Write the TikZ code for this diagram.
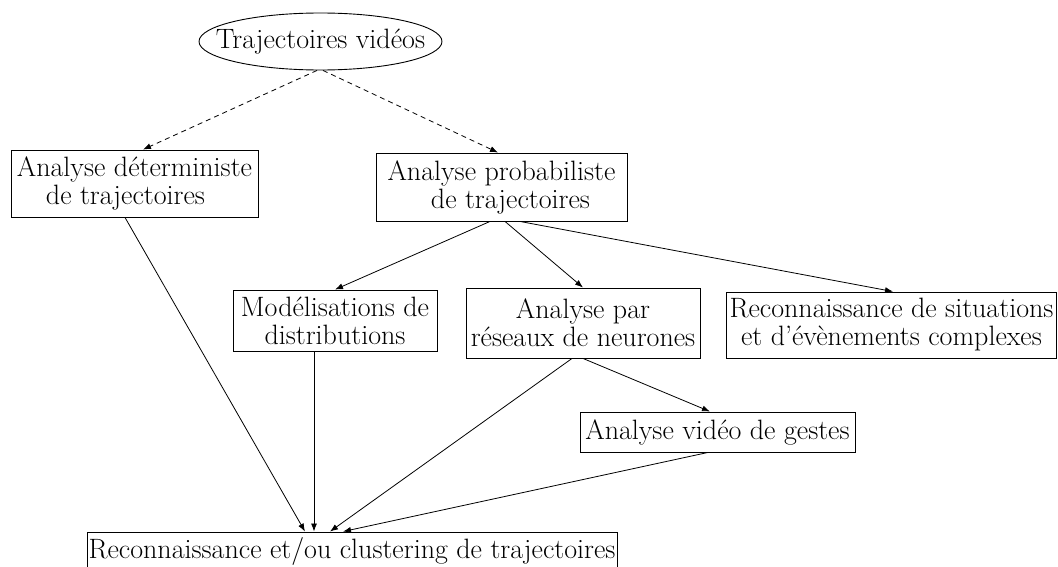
\documentclass[tikz,border=0pt]{standalone}
\usetikzlibrary{arrows.meta,shapes.geometric}
\begin{document}
\begin{tikzpicture}[x=1pt,y=-1pt,
  every node/.style={font=\fontsize{28}{28}\selectfont, align=center, inner sep=0pt},
  box/.style={draw, line width=0.9pt, rectangle},
  oval/.style={draw, line width=0.9pt, ellipse},
  conn/.style={line width=0.8pt, -{Latex[length=8pt,width=6pt]}},
  dconn/.style={conn, dash pattern=on 5pt off 4pt}]
\useasboundingbox (0,0) rectangle (1058,567);
\node[oval, minimum width=243pt, minimum height=57pt] (ell) at (320.5,41.5) {\makebox[0pt]{Trajectoires vidéos}};
\node[box, minimum width=247pt, minimum height=67pt] (A) at (134.5,183.5) {Analyse déterministe\\ de trajectoires\hspace*{18pt}};
\node[box, minimum width=251pt, minimum height=68pt] (B) at (501.5,187) {Analyse probabiliste\\ \hspace*{18pt}de trajectoires};
\node[box, minimum width=204pt, minimum height=61pt] (C) at (335,320.5) {Modélisations de\\ distributions};
\node[box, minimum width=234pt, minimum height=70pt] (D) at (583,323) {Analyse par\\ réseaux de neurones};
\node[box, minimum width=330pt, minimum height=66pt] (E) at (891.5,325) {Reconnaissance de situations\\ et d’évènements complexes};
\node[box, minimum width=275pt, minimum height=40pt] (F) at (717.5,432) {Analyse vidéo de gestes};
\node[box, minimum width=530pt, minimum height=38pt] (G) at (352,551) {Reconnaissance et/ou clustering de trajectoires};
\draw[dconn] ([xshift=-3.5pt]ell.south) -- ([xshift=8.5pt]A.north);
\draw[dconn] ([xshift=2.5pt]ell.south) -- ([xshift=-3.5pt]B.north);
\draw[conn] ([xshift=-9.5pt]A.south) -- ([xshift=-47pt]G.north);
\draw[conn] ([xshift=-11.5pt]B.south) -- (C.north);
\draw[conn] ([xshift=3.5pt]B.south) -- (D.north);
\draw[conn] ([xshift=18.5pt]B.south) -- ([xshift=1.5pt]E.north);
\draw[conn] ([xshift=-21pt]C.south) -- ([xshift=-38pt]G.north);
\draw[conn] ([xshift=-11pt]D.south) -- ([xshift=-22pt]G.north);
\draw[conn] ([xshift=0pt]D.south) -- ([xshift=-7.5pt]F.north);
\draw[conn] ([xshift=-9.5pt]F.south) -- ([xshift=-9pt]G.north);
\end{tikzpicture}
\end{document}
